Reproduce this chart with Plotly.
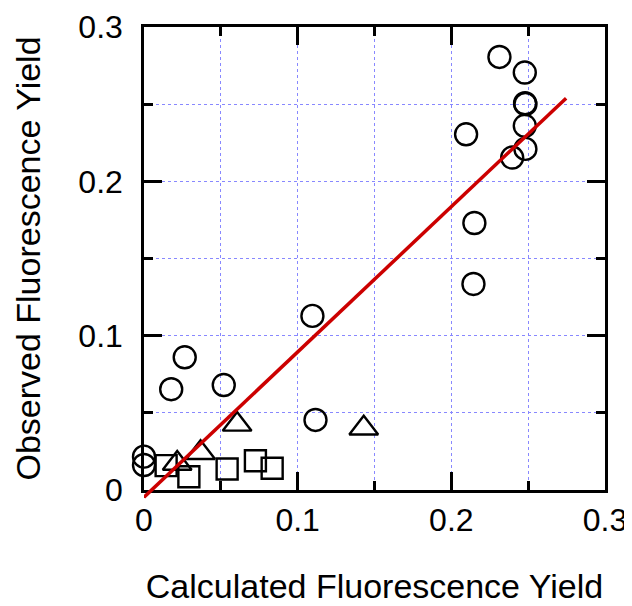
import plotly.graph_objects as go

# Circles
circ_x = [0.2313, 0.2478, 0.2480, 0.2482, 0.2478, 0.2482, 0.2396, 0.2096, 0.2150, 0.2144,
          0.1096, 0.1116, 0.0519, 0.0265, 0.0177, 0.0000, 0.0000]
circ_y = [0.2806, 0.2705, 0.2506, 0.2500, 0.2360, 0.2210, 0.2154, 0.2305, 0.1730, 0.1335,
          0.1128, 0.0454, 0.0680, 0.0860, 0.0653, 0.0216, 0.0162]
# Triangles
tri_x = [0.0606, 0.1430, 0.0368, 0.0216]
tri_y = [0.0425, 0.0400, 0.0241, 0.0172]
# Squares
sq_x = [0.0144, 0.0292, 0.0541, 0.0725, 0.0834]
sq_y = [0.0158, 0.0086, 0.0136, 0.0190, 0.0141]
# Fit line
fit_x = [0.0, 0.2747]
fit_y = [-0.0047, 0.2539]

tick_vals = [0, 0.1, 0.2, 0.3]
tick_text = ["0", "0.1", "0.2", "0.3"]

# plot geometry (figure pixels)
plot_h = 463.0
extra = 12.0  # extra room below the axis for the fit line's overhang
y_lo = -0.3 * extra / plot_h

fig = go.Figure()
mk_line = dict(color="black", width=2.4)
fig.add_trace(go.Scatter(x=circ_x, y=circ_y, mode="markers", cliponaxis=False,
                         marker=dict(symbol="circle-open", size=22, line=mk_line, color="black")))
fig.add_trace(go.Scatter(x=tri_x, y=tri_y, mode="markers", cliponaxis=False,
                         marker=dict(symbol="triangle-up-open", size=25, line=mk_line, color="black")))
fig.add_trace(go.Scatter(x=sq_x, y=sq_y, mode="markers", cliponaxis=False,
                         marker=dict(symbol="square-open", size=21, line=mk_line, color="black")))
fig.add_trace(go.Scatter(x=fit_x, y=fit_y, mode="lines", xaxis="x2", yaxis="y2",
                         line=dict(color="#cc0000", width=3.5)))

grid = dict(showgrid=True, gridcolor="#8888ff", griddash="dot", gridwidth=1)
axis_common = dict(range=[0, 0.3], tickvals=tick_vals, ticktext=tick_text,
                   ticks="inside", ticklen=18, tickwidth=2.5, tickcolor="black",
                   showline=True, linecolor="black", linewidth=2.5, mirror="ticks",
                   zeroline=False, automargin=False, **grid,
                   tickfont=dict(family="Liberation Sans, Arial", size=32, color="black"),
                   minor=dict(dtick=0.05, ticks="inside", ticklen=9, tickwidth=2.5,
                              tickcolor="black", **grid))

fig.update_layout(
    xaxis=dict(**axis_common, ticklabelstandoff=0,
               title=dict(text="Calculated Fluorescence Yield", standoff=38,
                          font=dict(family="Liberation Sans, Arial", size=34, color="black"))),
    yaxis=dict(**axis_common, ticklabelstandoff=12, domain=[extra / (plot_h + extra), 1],
               title=dict(text="Observed Fluorescence Yield", standoff=28,
                          font=dict(family="Liberation Sans, Arial", size=34, color="black"))),
    xaxis2=dict(range=[0, 0.3], domain=[0, 1], anchor="y2", visible=False,
                showgrid=False, zeroline=False, automargin=False),
    yaxis2=dict(range=[y_lo, 0.3], domain=[0, 1], anchor="x2", visible=False,
                showgrid=False, zeroline=False, automargin=False),
)

fig.update_layout(width=624, height=598, showlegend=False,
                  margin=dict(l=135.5, r=27, t=19, b=116 - extra),
                  plot_bgcolor="rgba(0,0,0,0)", paper_bgcolor="white")

fig.write_html("out.html")
